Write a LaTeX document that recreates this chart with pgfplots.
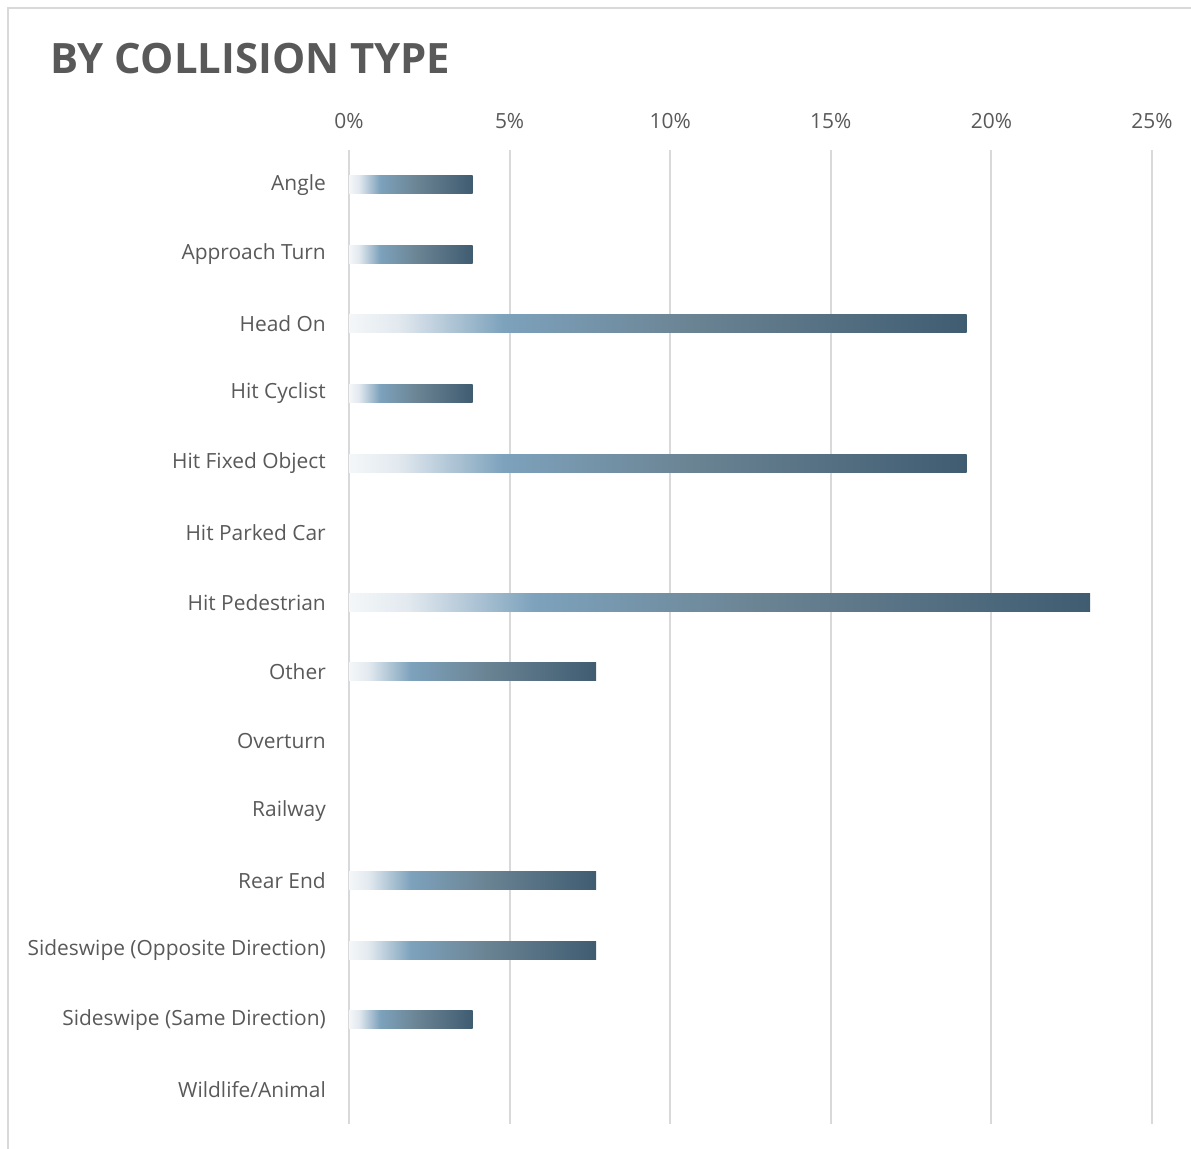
\documentclass[border=0pt]{standalone}
\usepackage{fontspec}
\setmainfont{Open Sans}
\usepackage{pgfplots}
\pgfplotsset{compat=1.18}
\definecolor{txt}{HTML}{595959}
\definecolor{gridc}{HTML}{D9D9D9}
\definecolor{c0}{HTML}{F4F7F9}
\definecolor{c1}{HTML}{E2E9EF}
\definecolor{c2}{HTML}{7DA2BC}
\definecolor{c3}{HTML}{6B8494}
\definecolor{c4}{HTML}{3F5C71}
\pgfdeclarehorizontalshading{barshade}{100bp}{color(0bp)=(c0); color(25bp)=(c0); color(29bp)=(c1); color(37.5bp)=(c2); color(52.5bp)=(c3); color(75bp)=(c4); color(100bp)=(c4)}
\begin{document}
\begin{tikzpicture}
\useasboundingbox (0,0) rectangle (1191bp,-1149bp);
\draw[gridc, line width=2bp] (8bp,-1149bp) -- (8bp,-8bp) -- (1191bp,-8bp);
\node[anchor=base west, inner sep=0pt, text=txt, font=\bfseries\fontsize{42}{50}\selectfont] at (50bp,-73bp) {BY COLLISION TYPE};
\begin{axis}[
  at={(349bp,-1124bp)}, anchor=south west,
  scale only axis, width=803bp, height=974bp,
  xmin=0, xmax=25, ymin=-0.5, ymax=13.5,
  y dir=reverse,
  axis line style={draw=none},
  xtick={0,5,10,15,20,25},
  xticklabels={0\%,5\%,10\%,15\%,20\%,25\%},
  xticklabel pos=upper,
  ytick={0,...,13},
  yticklabels={Angle,Approach Turn,Head On,Hit Cyclist,Hit Fixed Object,Hit Parked Car,Hit Pedestrian,Other,Overturn,Railway,Rear End,Sideswipe (Opposite Direction),Sideswipe (Same Direction),Wildlife/Animal},
  major tick length=0pt,
  xmajorgrids,
  major grid style={gridc, line width=2bp},
  ticklabel style={text=txt, font=\fontsize{21}{25}\selectfont, inner sep=0pt},
  xticklabel style={anchor=base, yshift=22bp},
  yticklabel style={anchor=east, xshift=-23bp},
  bb/.style={xbar, bar width=18bp, draw=none, shading=barshade, forget plot},
]
% one plot per bar so that each bar gets its own gradient
\addplot[bb] coordinates {(3.846,0)};
\addplot[bb] coordinates {(3.846,1)};
\addplot[bb] coordinates {(19.231,2)};
\addplot[bb] coordinates {(3.846,3)};
\addplot[bb] coordinates {(19.231,4)};
% Hit Parked Car: 0
\addplot[bb] coordinates {(23.077,6)};
\addplot[bb] coordinates {(7.692,7)};
% Overturn: 0, Railway: 0
\addplot[bb] coordinates {(7.692,10)};
\addplot[bb] coordinates {(7.692,11)};
\addplot[bb] coordinates {(3.846,12)};
% Wildlife/Animal: 0
\end{axis}
\end{tikzpicture}
\end{document}
